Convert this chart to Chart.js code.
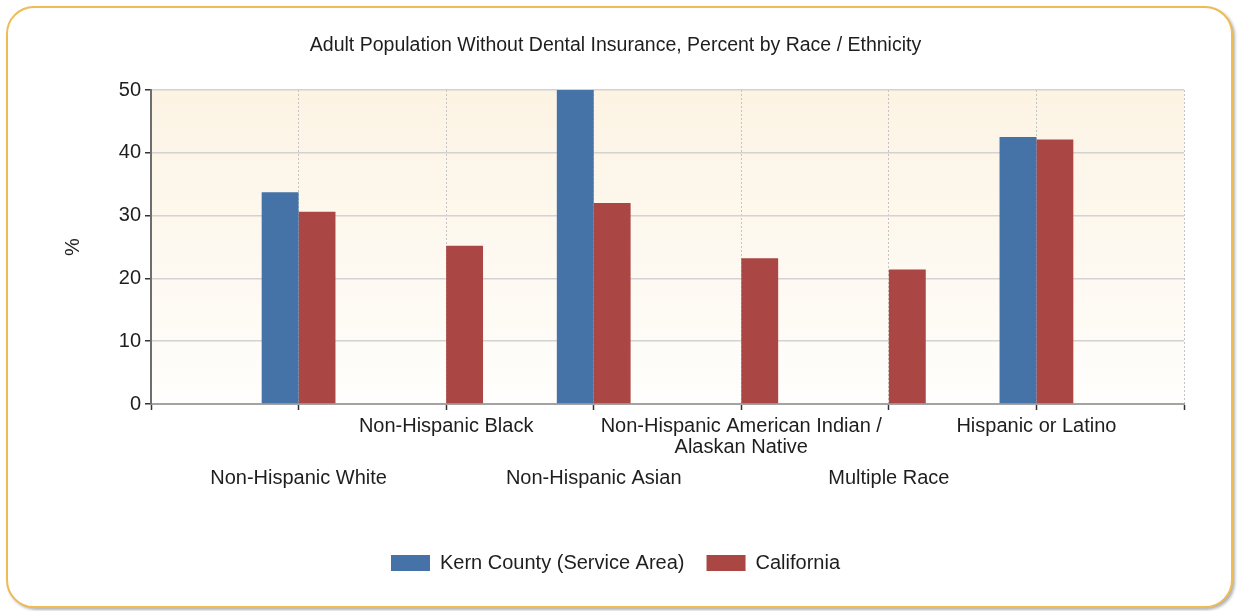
<!DOCTYPE html>
<html>
<head>
<meta charset="utf-8">
<title>Adult Population Without Dental Insurance</title>
<script src="https://cdn.jsdelivr.net/npm/chart.js@4.4.1/dist/chart.umd.min.js"></script>
<style>
  html, body { margin: 0; padding: 0; background: #ffffff; }
  #wrap { position: relative; width: 1238px; height: 611px; overflow: hidden; }
  #frame {
    position: absolute; left: 6px; top: 6px; width: 1227px; height: 602px;
    box-sizing: border-box; border: 2px solid #eebb55; border-radius: 28px;
    background: #ffffff; box-shadow: 2px 2px 3px rgba(0,0,0,0.30);
  }
  #chart { position: absolute; left: 0; top: 0; }
</style>
</head>
<body>
<div id="wrap">
  <div id="frame"></div>
  <canvas id="chart" width="1238" height="611"></canvas>
</div>
<script>
// Race / ethnicity groups shown on the x axis
const categories = [
  'Non-Hispanic White',
  'Non-Hispanic Black',
  'Non-Hispanic Asian',
  ['Non-Hispanic American Indian /', 'Alaskan Native'],
  'Multiple Race',
  'Hispanic or Latino'
];

// Percent of adults without dental insurance (null = no data)
const kernCounty = [33.7, null, 50.0, null, null, 42.5];
const california = [30.6, 25.2, 32.0, 23.2, 21.4, 42.1];

const seriesNames = ['Kern County (Service Area)', 'California'];
const seriesColors = ['#4572a7', '#aa4643'];

const yTicks = [0, 10, 20, 30, 40, 50];

// The category axis has an empty slot on each side of the groups
const pad = (arr) => [null, ...arr, null];
const axisLabels = ['', ...categories, ''];

// Labels alternate between an upper and a lower row
const isLowerRow = (tickIndex) => tickIndex >= 1 && tickIndex <= categories.length && (tickIndex - 1) % 2 === 0;

const FONT = "'Liberation Sans', Arial, sans-serif";

const plotBackground = {
  id: 'plotBackground',
  beforeDraw(chart) {
    const { ctx, chartArea: a } = chart;
    const g = ctx.createLinearGradient(0, a.top, 0, a.bottom);
    g.addColorStop(0, '#fcf3e3');
    g.addColorStop(1, '#fffefc');
    ctx.save();
    ctx.fillStyle = g;
    ctx.fillRect(a.left, a.top, a.width, a.height);
    ctx.restore();
  }
};

new Chart(document.getElementById('chart'), {
  type: 'bar',
  data: {
    labels: axisLabels,
    datasets: [
      {
        label: seriesNames[0],
        data: pad(kernCounty),
        backgroundColor: seriesColors[0],
        borderWidth: 0
      },
      {
        label: seriesNames[1],
        data: pad(california),
        backgroundColor: seriesColors[1],
        borderWidth: 0
      }
    ]
  },
  options: {
    responsive: false,
    animation: false,
    layout: { padding: { top: 0, left: 0, right: 7, bottom: 28 } },
    datasets: {
      bar: { categoryPercentage: 0.5, barPercentage: 1.0 }
    },
    scales: {
      x: {
        type: 'category',
        offset: false,
        grid: {
          offset: false,
          color: (ctx) => ctx.index === 0 ? 'rgba(0,0,0,0)' : '#c4c4c4',
          lineWidth: 1,
          drawTicks: true,
          tickLength: 6,
          tickColor: '#333333',
          tickWidth: 1.5
        },
        border: { display: true, color: '#a3a3a3', width: 2, dash: [2, 2] },
        ticks: {
          autoSkip: false,
          maxRotation: 0,
          minRotation: 0,
          padding: 5.5,
          color: '#1e1e1e',
          font: (ctx) => ({
            family: FONT,
            size: 20,
            lineHeight: isLowerRow(ctx.index) ? '25px' : '21px'
          }),
          callback: function (value, index) {
            const lab = axisLabels[index];
            if (!lab) return '';
            const lines = Array.isArray(lab) ? lab : [lab];
            return isLowerRow(index) ? ['', '', ...lines] : lines;
          }
        },
        afterFit(scale) {
          scale.height = 127;
          scale.paddingLeft = 0;
          scale.paddingRight = 54;
        }
      },
      y: {
        min: 0,
        max: 50,
        afterBuildTicks(scale) {
          scale.ticks = yTicks.map((v) => ({ value: v }));
        },
        grid: {
          color: (ctx) => ctx.index === 0 ? 'rgba(0,0,0,0)' : '#d2d2d2',
          lineWidth: 1.5,
          drawTicks: true,
          tickLength: 6,
          tickColor: '#333333',
          tickWidth: 1.5
        },
        border: { display: true, color: '#6e6e6e', width: 2 },
        ticks: {
          padding: 4,
          color: '#1e1e1e',
          font: { family: FONT, size: 20 }
        },
        title: {
          display: true,
          text: '%',
          color: '#1e1e1e',
          font: { family: FONT, size: 20 },
          padding: { top: 61, bottom: 0 }
        },
        afterFit(scale) {
          scale.width = 151;
        }
      }
    },
    plugins: {
      title: {
        display: true,
        text: 'Adult Population Without Dental Insurance, Percent by Race / Ethnicity',
        color: '#1e1e1e',
        font: { family: FONT, size: 19.5, weight: 'normal' },
        padding: { top: 34.3, bottom: 32.3 }
      },
      legend: {
        display: true,
        position: 'bottom',
        labels: {
          boxWidth: 39,
          boxHeight: 16,
          padding: 22,
          color: '#1e1e1e',
          font: { family: FONT, size: 20 }
        }
      },
      tooltip: { enabled: false }
    }
  },
  plugins: [plotBackground]
});
</script>
</body>
</html>
